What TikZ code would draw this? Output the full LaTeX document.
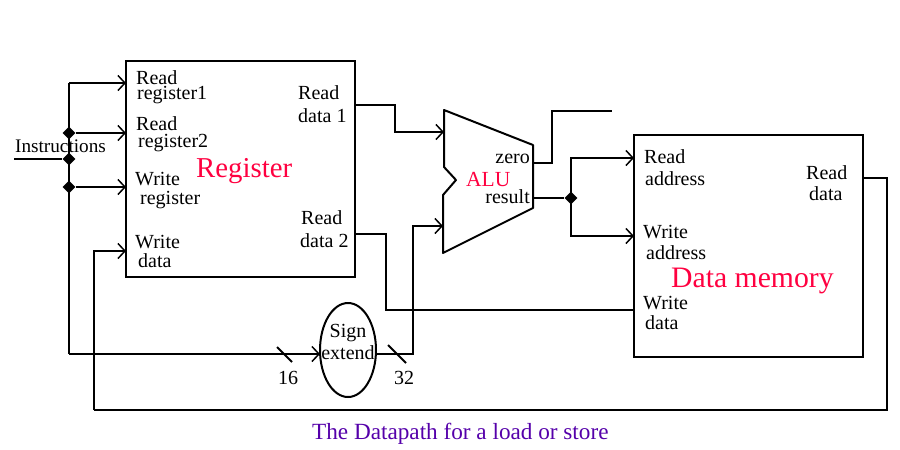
\documentclass[tikz,border=0pt]{standalone}
\usepackage{fontspec}
\setmainfont{Liberation Serif}
\usetikzlibrary{arrows.meta,shapes.geometric}
\definecolor{redtxt}{HTML}{FF0040}
\definecolor{purpletxt}{HTML}{5500AA}
\tikzset{
  wire/.style={line width=2pt,line join=miter},
  arr/.style={wire,-{Straight Barb[length=7pt,width=15pt,line width=1.5pt]}},
  box/.style={draw,line width=2pt,inner sep=0,outer sep=0,anchor=north west},
  dot/.style={diamond,fill=black,minimum size=13pt,inner sep=0},
  lab/.style={inner sep=0,anchor=base west,font=\fontsize{20}{20}\selectfont},
  labr/.style={lab,anchor=base east},
  big/.style={inner sep=0,anchor=base west,text=redtxt,font=\fontsize{28.8}{30}\selectfont},
}
\begin{document}
\begin{tikzpicture}[x=1pt,y=-1pt]
\useasboundingbox (0,0) rectangle (900,450);
% blocks
\node[box,minimum width=229pt,minimum height=216pt] (reg) at (126,61) {};
\node[box,minimum width=229pt,minimum height=222pt] (mem) at (634,135) {};
\node[ellipse,draw,line width=2pt,outer sep=0,minimum width=56pt,minimum height=94pt,inner sep=0] (sx) at (348,350) {};
\draw[wire,line join=round] (444,110) coordinate (aluTL) -- (533,145) -- (533,208) -- (443,253) -- (443,195) -- (456,180) -- (444,167) -- cycle;
% junctions and free ends
\coordinate (in) at (14,159);
\node[dot] (j1) at (69,133) {};
\node[dot] (j2) at (69,159) {};
\node[dot] (j3) at (69,187) {};
\node[dot] (j4) at (571,198) {};
\coordinate (top) at (69,83);
\coordinate (bot) at (69,354);
\coordinate (rr1) at (126,83);
\coordinate (rr2) at (126,133);
\coordinate (wr) at (126,187);
\coordinate (wd) at (126,251);
\coordinate (rd1) at (355,105);
\coordinate (rd2) at (355,234);
\coordinate (aluA) at (444,132);
\coordinate (aluB) at (443,226);
\coordinate (zero) at (533,163);
\coordinate (res) at (533,198);
\coordinate (zout) at (612,111);
\coordinate (ra) at (634,158);
\coordinate (wa) at (634,236);
\coordinate (mwd) at (634,310);
\coordinate (mrd) at (863,178);
\coordinate (sxin) at (320,354);
\coordinate (sxout) at (376,354);
% connectors
\draw[wire] (in) -- (j2);
\draw[wire] (top) -- (bot);
\draw[arr] (top) -- (rr1);
\draw[arr] (j1) -- (rr2);
\draw[arr] (j3) -- (wr);
\draw[arr] (bot) -- (sxin);
\draw[arr] (94,410) -- (94,251) -- (wd);
\draw[wire] (94,410) -- (887,410) -- (887,178) -- (mrd);
\draw[arr] (rd1) -- (395,105) -- (395,132) -- (aluA);
\draw[wire] (rd2) -- (386,234) -- (386,310) -- (mwd);
\draw[arr] (sxout) -- (413,354) -- (413,226) -- (aluB);
\draw[wire] (zero) -- (552,163) -- (552,111) -- (zout);
\draw[wire] (res) -- (j4);
\draw[arr] (571,198) -- (571,158) -- (ra);
\draw[arr] (571,198) -- (571,236) -- (wa);
% bus slashes
\draw[wire] (277,347) -- (292,362);
\draw[wire] (388,345) -- (406,363);
% labels
\node[lab,font=\fontsize{19.2}{20}\selectfont] (t1) at (15,152) {Instructions};
\node[lab] (t2) at (136,84) {Read};
\node[lab] (t3) at (137,99) {register1};
\node[lab] (t4) at (136,130) {Read};
\node[lab] (t5) at (138,147) {register2};
\node[lab] (t6) at (135,185) {Write};
\node[lab] (t7) at (140,204) {register};
\node[lab] (t8) at (135,248) {Write};
\node[lab] (t9) at (138,267) {data};
\node[lab] (t10) at (298,99) {Read};
\node[lab] (t11) at (298,122) {data 1};
\node[lab] (t12) at (301,224) {Read};
\node[lab] (t13) at (300,247) {data 2};
\node[big] (t14) at (196,177) {Register};
\node[labr] (t15) at (530,163) {zero};
\node[labr] (t16) at (530,203) {result};
\node[inner sep=0,anchor=base west,text=redtxt,font=\fontsize{21.5}{22}\selectfont] (t17) at (466,186) {ALU};
\node[lab] (t18) at (644,163) {Read};
\node[lab] (t19) at (645,185) {address};
\node[lab] (t20) at (643,238) {Write};
\node[lab] (t21) at (646,259) {address};
\node[lab] (t22) at (643,309) {Write};
\node[lab] (t23) at (645,329) {data};
\node[lab] (t24) at (806,179) {Read};
\node[lab] (t25) at (809,200) {data};
\node[big,font=\fontsize{29.7}{30}\selectfont] (t26) at (671,287) {Data memory};
\node[lab,anchor=base] (t27) at (348,337) {Sign};
\node[lab,anchor=base] (t28) at (348,359) {extend};
\node[lab] (t29) at (278,384) {16};
\node[lab] (t30) at (394,384) {32};
\node[inner sep=0,anchor=base west,text=purpletxt,font=\fontsize{23.2}{24}\selectfont] (t31) at (312,439) {The Datapath for a load or store};
\end{tikzpicture}
\end{document}
